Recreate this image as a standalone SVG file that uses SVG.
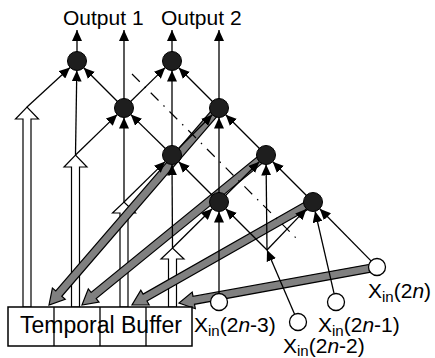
<svg xmlns="http://www.w3.org/2000/svg" width="435" height="358" viewBox="0 0 435 358">
<style>
.t{font-family:"Liberation Sans",Arial,sans-serif;fill:#000}
.ln{stroke:#000;stroke-width:1.3;fill:none;marker-end:url(#ah)}
.hol{fill:#fff;stroke:#000;stroke-width:1.2}
.gb{fill:#808080;stroke:#000;stroke-width:1.2;stroke-linejoin:miter}
.bn{fill:#1e1e1e;stroke:#000;stroke-width:1}
.wn{fill:#fff;stroke:#000;stroke-width:1.3}
</style>
<defs>
<marker id="ah" markerUnits="userSpaceOnUse" markerWidth="11" markerHeight="10" refX="11" refY="5" orient="auto">
<path d="M0,0 L11,5 L0,10 z" fill="#000"/>
</marker>
</defs>
<rect width="435" height="358" fill="#fff"/>
<g id="hollow-arrows">
<polygon class="hol" points="23,307 23,119 15.5,119 27,107 38.5,119 31,119 31,307"/>
<polygon class="hol" points="71.5,307 71.5,167 64,167 75.5,155 87,167 79.5,167 79.5,307"/>
<polygon class="hol" points="120,307 120,213 112.5,213 124,202 135.5,213 128,213 128,307"/>
<polygon class="hol" points="168.5,307 168.5,259 161,259 172.5,248 184,259 176.5,259 176.5,307"/>
</g>
<g id="feedback">
<polygon class="gb" points="222.0,110.6 61.8,296.3 65.2,299.2 49,305 52.4,288.1 55.8,291.0 216.0,105.4"/>
<polygon class="gb" points="268.5,158.1 96.2,298.6 99.0,302.1 82,305 88.3,288.9 91.1,292.4 263.5,151.9"/>
<polygon class="gb" points="315.0,205.5 147.0,301.1 149.2,305.0 132,305 140.8,290.2 143.1,294.1 311.0,198.5"/>
<polygon class="gb" points="377.7,270.9 194.5,304.3 195.3,308.7 179,303 192.2,292.0 193.0,296.4 376.3,263.1"/>
</g>
<g id="temporal-buffer">
<rect x="8" y="307" width="184" height="39" fill="#fff" stroke="#000" stroke-width="1.5"/>
<line x1="54" y1="307" x2="54" y2="346" stroke="#000" stroke-width="1.3"/>
<line x1="100" y1="307" x2="100" y2="346" stroke="#000" stroke-width="1.3"/>
<line x1="146" y1="307" x2="146" y2="346" stroke="#000" stroke-width="1.3"/>
<text class="t" x="101" y="333" font-size="23" text-anchor="middle">Temporal Buffer</text>
</g>
<g id="connectors">
<line class="ln" x1="77" y1="61" x2="77" y2="30"/>
<line class="ln" x1="124" y1="108" x2="124" y2="30"/>
<line class="ln" x1="172" y1="61" x2="172" y2="30"/>
<line class="ln" x1="219" y1="108" x2="219" y2="30"/>
<line class="ln" x1="27" y1="107" x2="70.0" y2="67.4"/>
<line class="ln" x1="75.5" y1="155" x2="76.8" y2="70.5"/>
<line class="ln" x1="124" y1="108" x2="83.7" y2="67.7"/>
<line class="ln" x1="124" y1="108" x2="165.2" y2="67.6"/>
<line class="ln" x1="172" y1="155" x2="172" y2="70.5"/>
<line class="ln" x1="219" y1="108" x2="178.7" y2="67.7"/>
<line class="ln" x1="75.5" y1="155" x2="117.2" y2="114.6"/>
<line class="ln" x1="124" y1="202" x2="124" y2="117.5"/>
<line class="ln" x1="172" y1="155" x2="130.8" y2="114.6"/>
<line class="ln" x1="172" y1="155" x2="212.3" y2="114.7"/>
<line class="ln" x1="219" y1="202" x2="219" y2="117.5"/>
<line class="ln" x1="266" y1="155" x2="225.7" y2="114.7"/>
<line class="ln" x1="124" y1="202" x2="165.2" y2="161.6"/>
<line class="ln" x1="172.5" y1="248" x2="172" y2="164.5"/>
<line class="ln" x1="219" y1="202" x2="178.7" y2="161.7"/>
<line class="ln" x1="219" y1="202" x2="259.3" y2="161.7"/>
<line class="ln" x1="267" y1="250" x2="266.1" y2="164.5"/>
<line class="ln" x1="313" y1="202" x2="272.7" y2="161.7"/>
<line class="ln" x1="172.5" y1="248" x2="212.2" y2="208.7"/>
<line class="ln" x1="219" y1="293.5" x2="219" y2="211.5"/>
<line class="ln" x1="267" y1="250" x2="225.7" y2="208.7"/>
<line class="ln" x1="267" y1="250" x2="306.4" y2="208.9"/>
<line class="ln" x1="334.1" y1="293.7" x2="315.1" y2="211.3"/>
<line class="ln" x1="371.0" y1="260.9" x2="319.7" y2="208.8"/>
<line class="ln" x1="294.6" y1="314.2" x2="267" y2="250"/>
<line x1="132" y1="74" x2="298" y2="240" stroke="#000" stroke-width="1.2" stroke-dasharray="11,7,1.5,7"/>
</g>
<g id="node-a1"><circle class="bn" cx="77" cy="61" r="9.5"/></g>
<g id="node-a2"><circle class="bn" cx="172" cy="61" r="9.5"/></g>
<g id="node-b1"><circle class="bn" cx="124" cy="108" r="9.5"/></g>
<g id="node-b2"><circle class="bn" cx="219" cy="108" r="9.5"/></g>
<g id="node-c1"><circle class="bn" cx="172" cy="155" r="9.5"/></g>
<g id="node-c2"><circle class="bn" cx="266" cy="155" r="9.5"/></g>
<g id="node-d1"><circle class="bn" cx="219" cy="202" r="9.5"/></g>
<g id="node-d2"><circle class="bn" cx="313" cy="202" r="9.5"/></g>
<g id="in-2n-3"><circle class="wn" cx="219" cy="302" r="8.5"/>
<text class="t" x="194" y="332" font-size="21">X<tspan font-size="15" dy="3.5">in</tspan><tspan dy="-3.5">(2</tspan><tspan font-style="italic">n</tspan>-3)</text></g>
<g id="in-2n-2"><circle class="wn" cx="298" cy="322" r="8.5"/>
<text class="t" x="283" y="352.5" font-size="21">X<tspan font-size="15" dy="3.5">in</tspan><tspan dy="-3.5">(2</tspan><tspan font-style="italic">n</tspan>-2)</text></g>
<g id="in-2n-1"><circle class="wn" cx="336" cy="302" r="8.5"/>
<text class="t" x="318" y="332" font-size="21">X<tspan font-size="15" dy="3.5">in</tspan><tspan dy="-3.5">(2</tspan><tspan font-style="italic">n</tspan>-1)</text></g>
<g id="in-2n"><circle class="wn" cx="377" cy="267" r="8.5"/>
<text class="t" x="368" y="298" font-size="21">X<tspan font-size="15" dy="3.5">in</tspan><tspan dy="-3.5">(2</tspan><tspan font-style="italic">n</tspan>)</text></g>
<g id="labels">
<text class="t" x="63" y="25" font-size="21">Output 1</text>
<text class="t" x="161" y="25" font-size="21">Output 2</text>
</g>
</svg>
